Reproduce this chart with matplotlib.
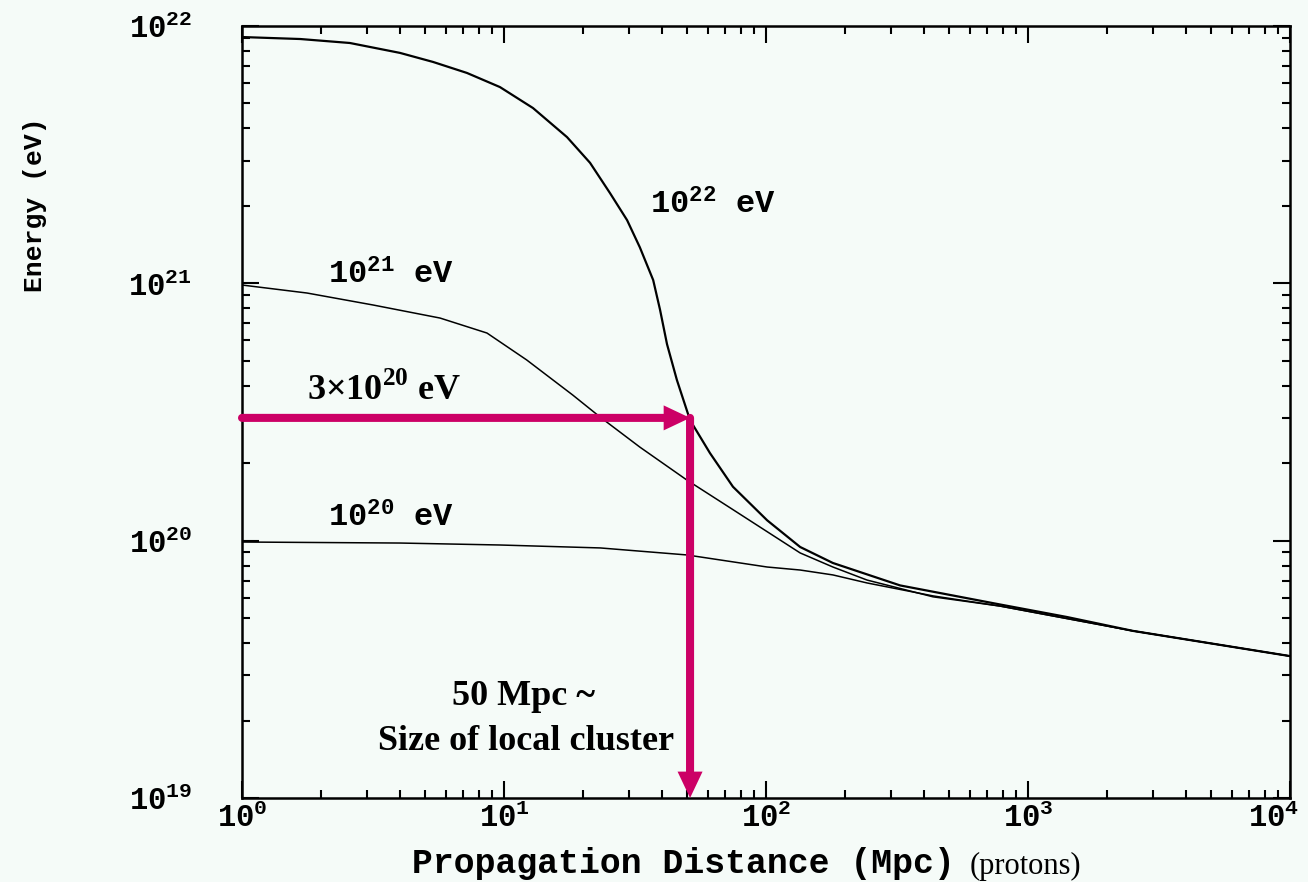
import matplotlib
matplotlib.use("Agg")
import matplotlib.pyplot as plt
from matplotlib.ticker import LogLocator, NullFormatter
from matplotlib.transforms import ScaledTranslation

# mono pixel-ish font for the plot labels, Times-like for the overlay notes
plt.rcParams['mathtext.fontset'] = 'custom'
plt.rcParams['mathtext.rm'] = 'Liberation Mono:bold'
plt.rcParams['mathtext.bf'] = 'Liberation Serif:bold'
plt.rcParams['mathtext.default'] = 'rm'

W, H = 1308, 882
bg = '#f5fbf8'
magenta = '#cc0066'

# propagation distance (Mpc) and energy (eV)
dist_e22 = [1, 1.67, 2.58, 4.01, 5.36, 7.22, 9.65, 12.9, 17.4, 21.3, 25.4, 29.5,
            33.0, 37.1, 39.4, 41.9, 45.7, 51.3, 61.1, 74.8, 101, 135, 180, 325,
            782, 1409, 2516, 10000]
energy_e22 = [9.06e21, 8.90e21, 8.59e21, 7.86e21, 7.25e21, 6.57e21, 5.79e21,
              4.80e21, 3.70e21, 2.94e21, 2.24e21, 1.76e21, 1.38e21, 1.03e21,
              7.90e20, 5.80e20, 4.21e20, 2.94e20, 2.19e20, 1.62e20, 1.20e20,
              9.45e19, 8.19e19, 6.70e19, 5.65e19, 5.05e19, 4.46e19, 3.56e19]

dist_e21 = [1, 1.77, 3.16, 5.70, 8.61, 12.2, 18.3, 23.3, 33.0, 49.9, 74.8, 135,
            180, 243, 434, 782, 2516, 10000]
energy_e21 = [9.85e20, 9.17e20, 8.24e20, 7.33e20, 6.41e20, 5.04e20, 3.68e20,
              3.02e20, 2.31e20, 1.72e20, 1.32e20, 8.96e19, 7.90e19, 7.03e19,
              6.05e19, 5.57e19, 4.46e19, 3.56e19]

dist_e20 = [1, 4.01, 9.65, 23.3, 49.9, 101, 135, 180, 243, 434, 782, 2516, 10000]
energy_e20 = [9.88e19, 9.79e19, 9.62e19, 9.37e19, 8.80e19, 7.90e19, 7.69e19,
              7.36e19, 6.85e19, 6.10e19, 5.57e19, 4.46e19, 3.56e19]

x_ticks = [1, 10, 100, 1000, 10000]
x_labels = [r'$10^{0}$', r'$10^{1}$', r'$10^{2}$', r'$10^{3}$', r'$10^{4}$']
y_ticks = [1e19, 1e20, 1e21, 1e22]
y_labels = [r'$10^{19}$', r'$10^{20}$', r'$10^{21}$', r'$10^{22}$']

threshold_energy = 3e20
cluster_distance = 51.3

fig = plt.figure(figsize=(W / 100, H / 100), dpi=100, facecolor=bg)
ax = fig.add_axes([242 / W, 1 - 798 / H, 1048 / W, 772 / H], facecolor=bg)

ax.plot(dist_e22, energy_e22, color='black', lw=1.6)
ax.plot(dist_e21, energy_e21, color='black', lw=1.1)
ax.plot(dist_e20, energy_e20, color='black', lw=1.1)

ax.set_xscale('log')
ax.set_yscale('log')
ax.set_xlim(1, 1e4)
ax.set_ylim(1e19, 1e22)

ax.set_xticks(x_ticks, labels=x_labels)
ax.set_yticks(y_ticks, labels=y_labels)
ax.xaxis.set_minor_locator(LogLocator(base=10, subs=range(2, 10)))
ax.yaxis.set_minor_locator(LogLocator(base=10, subs=range(2, 10)))
ax.xaxis.set_minor_formatter(NullFormatter())
ax.yaxis.set_minor_formatter(NullFormatter())
ax.tick_params(which='both', direction='in', top=True, right=True, width=1.5,
               colors='black')
ax.tick_params(which='major', length=12)
ax.tick_params(which='minor', length=6)
ax.tick_params(axis='x', which='major', labelsize=22, pad=3)
ax.tick_params(axis='y', which='major', labelsize=22, pad=36)
for s in ax.spines.values():
    s.set_linewidth(1.8)

# keep the last x label inside the figure, like the original
last = ax.get_xticklabels()[-1]
last.set_transform(last.get_transform() + ScaledTranslation(-16 / 100, 0, fig.dpi_scale_trans))

mono = dict(family='Liberation Mono', weight='bold', color='black')

# curve labels
ax.text(36.1, 2.01e21, r'10$^{22}$ eV', fontsize=23, va='center', **mono)
ax.text(2.13, 1.08e21, r'10$^{21}$ eV', fontsize=23, va='center', **mono)
ax.text(2.13, 1.22e20, r'10$^{20}$ eV', fontsize=23, va='center', **mono)

# arrows: shaft then head
arrow_w = 5.8
for start, end in [((1, threshold_energy), (cluster_distance, threshold_energy)),
                   ((cluster_distance, threshold_energy), (cluster_distance, 1e19))]:
    ax.annotate('', xy=end, xytext=start, annotation_clip=False,
                arrowprops=dict(arrowstyle='-', color=magenta, lw=arrow_w,
                                shrinkA=0, shrinkB=16))
    ax.annotate('', xy=end, xytext=start, annotation_clip=False,
                arrowprops=dict(arrowstyle='-|>,head_length=1.9,head_width=0.9',
                                color=magenta, lw=0, shrinkA=0, shrinkB=0,
                                mutation_scale=10))

serif_b = dict(family='Liberation Serif', weight='bold', color='black')
fig.text(307 / W, 1 - 400 / H, r'3×10$^{\mathbf{20}}$ eV', fontsize=26,
         ha='left', va='baseline', **serif_b)
fig.text(523 / W, 1 - 705 / H, '50 Mpc ~', fontsize=26, ha='center',
         va='baseline', **serif_b)
fig.text(526 / W, 1 - 750 / H, 'Size of local cluster', fontsize=26,
         ha='center', va='baseline', **serif_b)

fig.text(683 / W, 1 - 864 / H, 'Propagation Distance (Mpc)', fontsize=25,
         ha='center', va='center', **mono)
fig.text(35 / W, 1 - 205 / H, 'Energy (eV)', fontsize=19, rotation=90,
         ha='center', va='center', **mono)
fig.text(970 / W, 1 - 866 / H, '(protons)', fontsize=22, ha='left',
         va='center', family='Liberation Serif', color='black')

fig.savefig('out.png', dpi=100, facecolor=bg)
